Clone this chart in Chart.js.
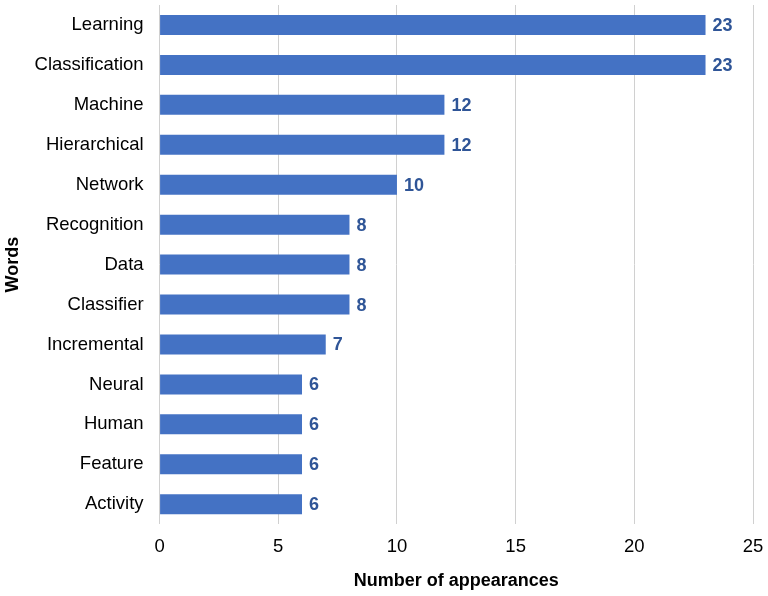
<!DOCTYPE html>
<html>
<head>
<meta charset="utf-8">
<script src="https://cdn.jsdelivr.net/npm/chart.js@4"></script>
<style>
  html, body { margin: 0; padding: 0; background: #fff; }
  #wrap { width: 768px; height: 596px; }
</style>
</head>
<body>
<div id="wrap"><canvas id="words"></canvas></div>
<script>
const words = ["Learning", "Classification", "Machine", "Hierarchical", "Network", "Recognition",
  "Data", "Classifier", "Incremental", "Neural", "Human", "Feature", "Activity"];
const counts = [23, 23, 12, 12, 10, 8, 8, 8, 7, 6, 6, 6, 6];
const xTicks = [0, 5, 10, 15, 20, 25];

const FONT = "'Liberation Sans', Arial, sans-serif";

// value labels at the end of each bar
const barLabels = {
  id: "barLabels",
  afterDatasetsDraw(chart) {
    const ctx = chart.ctx;
    const meta = chart.getDatasetMeta(0);
    ctx.save();
    ctx.font = "bold 18px " + FONT;
    ctx.fillStyle = "#2f5597";
    ctx.textAlign = "left";
    ctx.textBaseline = "middle";
    meta.data.forEach((bar, i) => {
      ctx.fillText(String(counts[i]), bar.x + 7, bar.y + 1);
    });
    ctx.restore();
  },
};

Chart.defaults.font.family = FONT;

new Chart(document.getElementById("words"), {
  type: "bar",
  data: {
    labels: words,
    datasets: [
      {
        data: counts,
        backgroundColor: "#4472c4",
        borderWidth: 0,
        categoryPercentage: 1,
        barPercentage: 0.5,
      },
    ],
  },
  options: {
    indexAxis: "y",
    responsive: true,
    maintainAspectRatio: false,
    animation: false,
    layout: { padding: { top: 5, right: 15, left: 2, bottom: 4 } },
    plugins: {
      legend: { display: false },
      tooltip: { enabled: false },
    },
    scales: {
      x: {
        min: 0,
        max: 25,
        afterBuildTicks: (axis) => {
          axis.ticks = xTicks.map((v) => ({ value: v }));
        },
        afterFit: (scale) => {
          scale.paddingRight = 0;
        },
        grid: { color: "#d0d0d0", lineWidth: 1, drawTicks: false },
        border: { display: false },
        ticks: { color: "#000", font: { size: 18.5 }, padding: 12 },
        title: {
          display: true,
          text: "Number of appearances",
          color: "#000",
          font: { size: 18, weight: "bold" },
          padding: { top: 0, bottom: 0 },
        },
      },
      y: {
        afterFit: (scale) => {
          scale.paddingTop = 0;
          scale.paddingBottom = 0;
          scale.width -= 5;
        },
        grid: { display: false, drawTicks: false },
        border: { display: false },
        ticks: { color: "#000", font: { size: 18.5 }, padding: 16 },
        title: {
          display: true,
          text: "Words",
          color: "#000",
          font: { size: 18, weight: "bold" },
          padding: { top: 0, bottom: 0 },
        },
      },
    },
  },
  plugins: [barLabels],
});
</script>
</body>
</html>
